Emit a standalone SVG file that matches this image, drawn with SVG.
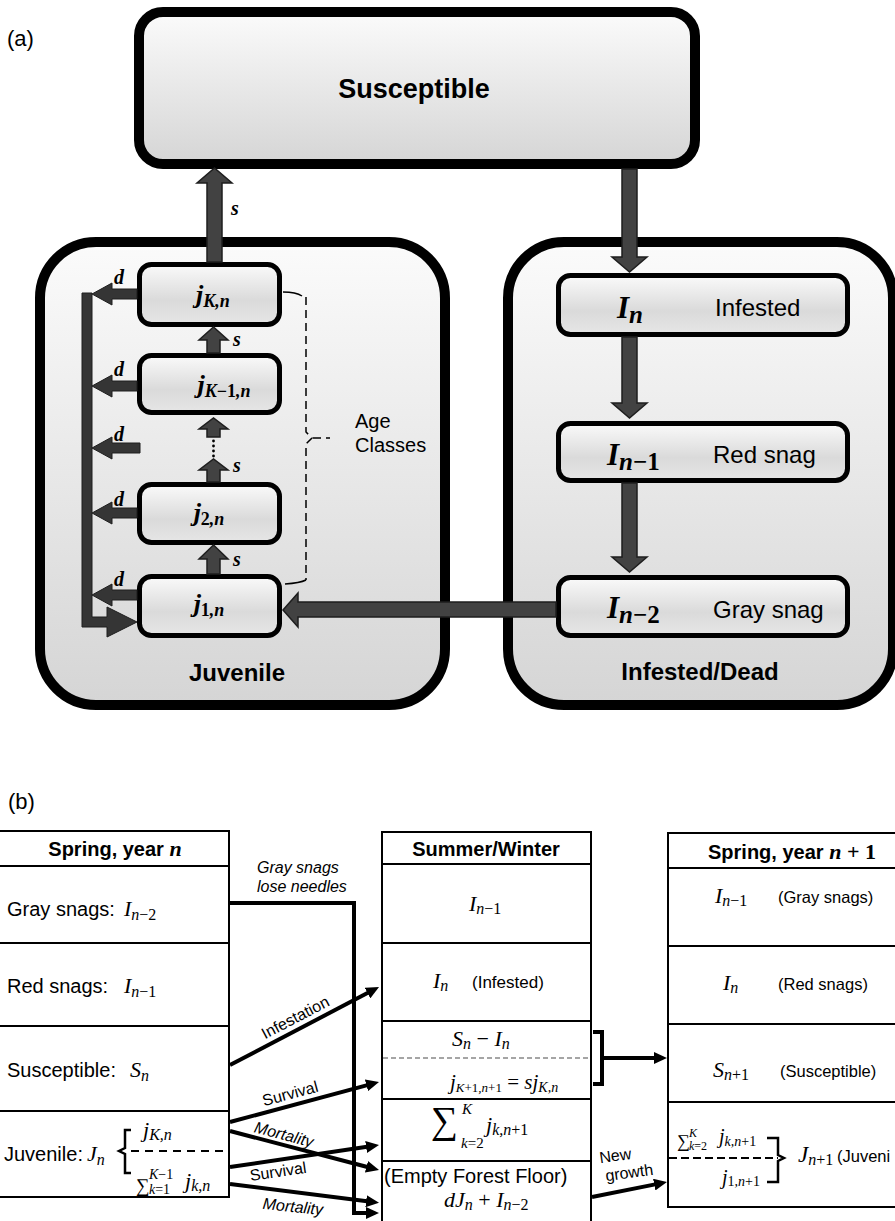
<svg xmlns="http://www.w3.org/2000/svg" width="895" height="1221" viewBox="0 0 895 1221">
<defs>
<linearGradient id="gBig" x1="0" y1="0" x2="0" y2="1"><stop offset="0" stop-color="#fbfbfb"/><stop offset="1" stop-color="#d5d5d5"/></linearGradient>
<linearGradient id="gSm" x1="0" y1="0" x2="0" y2="1"><stop offset="0" stop-color="#fafafa"/><stop offset="0.6" stop-color="#dadada"/><stop offset="1" stop-color="#e6e6e6"/></linearGradient>
<marker id="ah" markerUnits="userSpaceOnUse" viewBox="0 0 13 12" markerWidth="13" markerHeight="12" refX="1" refY="6" orient="auto"><path d="M0,0 L13,6 L0,12 z" fill="#000"/></marker>
<style>
.big{fill:url(#gBig);stroke:#000;stroke-width:10}
.sm{fill:url(#gSm);stroke:#000;stroke-width:5}
.fa{fill:#424242;stroke:#1e1e1e;stroke-width:1.5}
.fd{fill:#353535;stroke:#1e1e1e;stroke-width:1}
.t{font-family:"Liberation Sans",Arial,sans-serif;fill:#000}
.b{font-weight:bold}
.mb{font-family:"Liberation Serif","Times New Roman",serif;font-style:italic;font-weight:bold;fill:#000}
.m{font-family:"Liberation Serif","Times New Roman",serif;font-style:italic;fill:#000}
.up{font-style:normal}
.ln{stroke:#000;stroke-width:4;fill:none}
.tb{stroke:#000;stroke-width:2;fill:none}
.lab{font-family:"Liberation Sans",Arial,sans-serif;font-size:16px;fill:#000}
</style>
</defs>

<!-- ===== (a) ===== -->
<text x="7" y="46" class="t" font-size="22">(a)</text>

<g id="susceptible">
<rect x="139" y="12" width="556" height="152" rx="24" class="big"/>
<text x="414" y="98" text-anchor="middle" class="t b" font-size="27">Susceptible</text>
</g>

<g id="juvenile">
<rect x="40" y="242" width="405" height="463" rx="56" class="big"/>
<text x="237" y="681" text-anchor="middle" class="t b" font-size="24">Juvenile</text>
</g>

<g id="infested-dead">
<rect x="508" y="242" width="385" height="463" rx="56" class="big"/>
<text x="700" y="680" text-anchor="middle" class="t b" font-size="24">Infested/Dead</text>
</g>

<g id="jK">
<rect x="139.5" y="264.5" width="140" height="60" rx="12" class="sm"/>
<text x="213" y="303" text-anchor="middle" class="mb" font-size="26">j<tspan font-size="18" dy="4">K,n</tspan></text>
</g>
<g id="jK1">
<rect x="139.5" y="355.5" width="140" height="57" rx="12" class="sm"/>
<text x="224" y="393" text-anchor="middle" class="mb" font-size="26">j<tspan font-size="18" dy="4">K<tspan class="up">−1</tspan>,n</tspan></text>
</g>
<g id="j2">
<rect x="139.5" y="484.5" width="140" height="58" rx="12" class="sm"/>
<text x="209" y="521" text-anchor="middle" class="mb" font-size="26">j<tspan font-size="18" dy="4"><tspan class="up">2</tspan>,n</tspan></text>
</g>
<g id="j1">
<rect x="139.5" y="576.5" width="140" height="59" rx="12" class="sm"/>
<text x="209" y="612" text-anchor="middle" class="mb" font-size="26">j<tspan font-size="18" dy="4"><tspan class="up">1</tspan>,n</tspan></text>
</g>

<g id="In">
<rect x="558.5" y="275.5" width="289" height="59" rx="12" class="sm"/>
<text x="617" y="318" class="mb" font-size="31">I<tspan font-size="25" dy="5">n</tspan></text>
<text x="715" y="316" class="t" font-size="24">Infested</text>
</g>
<g id="In1">
<rect x="558.5" y="423.5" width="289" height="57" rx="12" class="sm"/>
<text x="607" y="465" class="mb" font-size="31">I<tspan font-size="25" dy="5">n<tspan class="up">−1</tspan></tspan></text>
<text x="713" y="463" class="t" font-size="24">Red snag</text>
</g>
<g id="In2">
<rect x="558.5" y="577.5" width="289" height="58" rx="12" class="sm"/>
<text x="607" y="618" class="mb" font-size="31">I<tspan font-size="25" dy="5">n<tspan class="up">−2</tspan></tspan></text>
<text x="713" y="618" class="t" font-size="24">Gray snag</text>
</g>

<g id="age-classes">
<path d="M283,292 Q296,292 302,296" fill="none" stroke="#000" stroke-width="1.5"/>
<path d="M306,297 L306,432 L312,438 L306,444 L306,580" fill="none" stroke="#000" stroke-width="1.5" stroke-dasharray="8,5"/>
<path d="M313,438 L330,438" fill="none" stroke="#000" stroke-width="1.5" stroke-dasharray="8,5"/>
<path d="M285,584 Q300,583 306,580" fill="none" stroke="#000" stroke-width="1.5"/>
<text x="355" y="428" class="t" font-size="20">Age</text>
<text x="355" y="452" class="t" font-size="20">Classes</text>
</g>

<g id="connectors-a">
<polygon class="fa" points="207,262 207,183 197,183 214.5,168 232,183 222,183 222,262"/>
<polygon class="fa" points="622,169 637,169 637,257 647,257 629.5,272 612,257 622,257"/>
<polygon class="fa" points="622,337 637,337 637,403 647,403 629.5,418 612,403 622,403"/>
<polygon class="fa" points="622,483 637,483 637,557 647,557 629.5,572 612,557 622,557"/>
<polygon class="fa" points="556,602 556,617 298,617 298,627 283,610 298,593 298,602"/>
<polygon class="fa" points="207,574 207,559 199,559 213.5,545 228,559 220,559 220,574"/>
<polygon class="fa" points="207,482 207,470 199,470 213.5,459 228,470 220,470 220,482"/>
<polygon class="fa" points="207,437 207,429 199,429 213.5,418 228,429 220,429 220,437"/>
<polygon class="fa" points="207,353 207,340 199,340 213.5,327 228,340 220,340 220,353"/>
<g fill="#000"><circle cx="213.5" cy="441" r="1.4"/><circle cx="213.5" cy="446" r="1.4"/><circle cx="213.5" cy="451" r="1.4"/><circle cx="213.5" cy="456" r="1.4"/></g>
<polygon class="fd" points="137,289 112,289 112,283 92,294 112,305 112,299 137,299"/>
<polygon class="fd" points="137,381 112,381 112,375 92,386 112,397 112,391 137,391"/>
<polygon class="fd" points="140,443 112,443 112,437 92,448 112,459 112,453 140,453"/>
<polygon class="fd" points="137,508 112,508 112,502 92,513 112,524 112,518 137,518"/>
<polygon class="fd" points="137,590 112,590 112,584 92,595 112,606 112,600 137,600"/>
<polygon class="fd" points="82,293 92,293 92,617 107,617 107,607 137,622 107,637 107,627 82,627"/>
<g class="mb" font-size="20">
<text x="231" y="215">s</text>
<text x="233" y="346">s</text>
<text x="233" y="472">s</text>
<text x="233" y="566">s</text>
<text x="114" y="284">d</text>
<text x="114" y="376">d</text>
<text x="114" y="441">d</text>
<text x="114" y="506">d</text>
<text x="114" y="586">d</text>
</g>
</g>

<!-- ===== (b) ===== -->
<text x="8" y="809" class="t" font-size="22">(b)</text>

<g id="table-spring-n">
<path class="tb" d="M0,831 H229 M0,866 H229 M0,943 H229 M0,1026 H229 M0,1111 H229 M0,1197 H229 M229,830 V1198"/>
<text x="115" y="856" text-anchor="middle" class="t b" font-size="20">Spring, year <tspan class="mb" font-size="22">n</tspan></text>
<text x="7" y="916" class="t" font-size="20">Gray snags:</text>
<text x="124" y="916" class="m" font-size="22">I<tspan font-size="16" dy="4">n<tspan class="up">−2</tspan></tspan></text>
<text x="7" y="993" class="t" font-size="20">Red snags:</text>
<text x="124" y="993" class="m" font-size="22">I<tspan font-size="16" dy="4">n<tspan class="up">−1</tspan></tspan></text>
<text x="7" y="1077" class="t" font-size="20">Susceptible:</text>
<text x="130" y="1077" class="m" font-size="22">S<tspan font-size="16" dy="4">n</tspan></text>
<text x="4" y="1161" class="t" font-size="20">Juvenile:</text>
<text x="87" y="1161" class="m" font-size="22">J<tspan font-size="16" dy="4">n</tspan></text>
<path d="M131,1130 H125 V1148 L119,1151 L125,1154 V1173 H131" fill="none" stroke="#000" stroke-width="2.5"/>
<path d="M131,1151 H228" stroke="#000" stroke-width="2" stroke-dasharray="8,6"/>
<text x="143" y="1137" class="m" font-size="22">j<tspan font-size="16" dy="3">K,n</tspan></text>
<text x="136" y="1192" class="m up" font-size="19" font-style="normal">∑</text>
<text x="149" y="1179" class="m" font-size="14">K<tspan class="up">−1</tspan></text>
<text x="149" y="1194" class="m" font-size="14">k<tspan class="up">=1</tspan></text>
<text x="185" y="1188" class="m" font-size="22">j<tspan font-size="16" dy="3">k,n</tspan></text>
</g>

<g id="table-summer-winter">
<path class="tb" d="M382,832 H591 M382,864 H591 M382,943 H591 M382,1021 H591 M382,1099 H591 M382,1161 H591 M382,831 V1221 M591,831 V1221"/>
<path d="M383,1058 H590" stroke="#888" stroke-width="1.5" stroke-dasharray="5,3"/>
<text x="486" y="856" text-anchor="middle" class="t b" font-size="20">Summer/Winter</text>
<text x="469" y="911" class="m" font-size="22">I<tspan font-size="16" dy="3">n<tspan class="up">−1</tspan></tspan></text>
<text x="433" y="988" class="m" font-size="22">I<tspan font-size="16" dy="3">n</tspan></text>
<text x="472" y="988" class="t" font-size="17">(Infested)</text>
<text x="452" y="1046" class="m" font-size="22">S<tspan font-size="16" dy="3">n</tspan><tspan class="up" dy="-3"> − </tspan>I<tspan font-size="16" dy="3">n</tspan></text>
<text x="450" y="1089" class="m" font-size="21">j<tspan font-size="13" dy="3">K<tspan class="up">+1</tspan>,n<tspan class="up">+1</tspan></tspan><tspan class="up" dy="-3"> = </tspan>sj<tspan font-size="14" dy="3">K,n</tspan></text>
<text x="431" y="1133" class="m up" font-size="38" font-style="normal">∑</text>
<text x="462" y="1114" class="m" font-size="15">K</text>
<text x="461" y="1148" class="m" font-size="15">k<tspan class="up">=2</tspan></text>
<text x="486" y="1132" class="m" font-size="22">j<tspan font-size="16" dy="3">k,n<tspan class="up">+1</tspan></tspan></text>
<text x="384" y="1183" class="t" font-size="20">(Empty Forest Floor)</text>
<text x="444" y="1207" class="m" font-size="22">dJ<tspan font-size="16" dy="3">n</tspan><tspan class="up" dy="-3"> + </tspan>I<tspan font-size="16" dy="3">n<tspan class="up">−2</tspan></tspan></text>
</g>

<g id="table-spring-n1">
<path class="tb" d="M668,833 H895 M668,868 H895 M668,946 H895 M668,1024 H895 M668,1102 H895 M668,1207 H895 M668,832 V1208"/>
<text x="708" y="859" class="t b" font-size="20">Spring, year <tspan class="mb" font-size="22">n</tspan><tspan class="mb up" font-size="22" font-style="normal"> + 1</tspan></text>
<text x="715" y="903" class="m" font-size="22">I<tspan font-size="16" dy="3">n<tspan class="up">−1</tspan></tspan></text>
<text x="778" y="903" class="t" font-size="16.5">(Gray snags)</text>
<text x="723" y="990" class="m" font-size="22">I<tspan font-size="16" dy="3">n</tspan></text>
<text x="778" y="990" class="t" font-size="16.5">(Red snags)</text>
<text x="713" y="1077" class="m" font-size="22">S<tspan font-size="16" dy="3">n<tspan class="up">+1</tspan></tspan></text>
<text x="780" y="1077" class="t" font-size="16.5">(Susceptible)</text>
<text x="677" y="1147" class="m up" font-size="18" font-style="normal">∑</text>
<text x="689" y="1137" class="m" font-size="12">K</text>
<text x="689" y="1150" class="m" font-size="12">k<tspan class="up">=2</tspan></text>
<text x="719" y="1143" class="m" font-size="20">j<tspan font-size="14" dy="3">k,n<tspan class="up">+1</tspan></tspan></text>
<text x="722" y="1184" class="m" font-size="20">j<tspan font-size="14" dy="2"><tspan class="up">1</tspan>,n<tspan class="up">+1</tspan></tspan></text>
<path d="M767,1138 H778 V1155 L784,1158 L778,1161 V1182 H767" fill="none" stroke="#000" stroke-width="2.5"/>
<path d="M669,1158 H778" stroke="#000" stroke-width="2" stroke-dasharray="8,4"/>
<text x="798" y="1162" class="m" font-size="23">J<tspan font-size="16" dy="3">n<tspan class="up">+1</tspan></tspan></text>
<text x="837" y="1162" class="t" font-size="16.5">(Juveni</text>
</g>

<g id="connectors-b">
<polyline class="ln" points="230,903 354,903 354,1213 367,1213" marker-end="url(#ah)"/>
<line class="ln" x1="230" y1="1065" x2="368.4" y2="992.6" marker-end="url(#ah)"/>
<line class="ln" x1="230" y1="1122" x2="367.4" y2="1085.1" marker-end="url(#ah)"/>
<line class="ln" x1="230" y1="1131" x2="367.4" y2="1167" marker-end="url(#ah)"/>
<line class="ln" x1="230" y1="1167" x2="367.1" y2="1146.8" marker-end="url(#ah)"/>
<line class="ln" x1="230" y1="1184" x2="367.1" y2="1201.3" marker-end="url(#ah)"/>
<path class="ln" d="M593,1032 H602 V1084 H593" stroke-width="3"/>
<line class="ln" x1="602" y1="1058" x2="655" y2="1058" marker-end="url(#ah)"/>
<line class="ln" x1="592" y1="1197" x2="655.2" y2="1184.4" marker-end="url(#ah)"/>
<text x="257" y="873" class="lab" font-style="italic">Gray snags</text>
<text x="257" y="892" class="lab" font-style="italic">lose needles</text>
<text class="lab" text-anchor="middle" transform="translate(297.8,1022.3) rotate(-27.6)">Infestation</text>
<text class="lab" text-anchor="middle" transform="translate(291.6,1098.8) rotate(-15)">Survival</text>
<text class="lab" text-anchor="middle" font-style="italic" transform="translate(282.5,1139.8) rotate(14.8)">Mortality</text>
<text class="lab" text-anchor="middle" transform="translate(278.9,1176.9) rotate(-8.4)">Survival</text>
<text class="lab" text-anchor="middle" font-style="italic" transform="translate(292.4,1212) rotate(6)">Mortality</text>
<text class="lab" text-anchor="middle" transform="translate(616,1161) rotate(-8)">New</text>
<text class="lab" text-anchor="middle" transform="translate(630,1178) rotate(-8)">growth</text>
</g>
</svg>
